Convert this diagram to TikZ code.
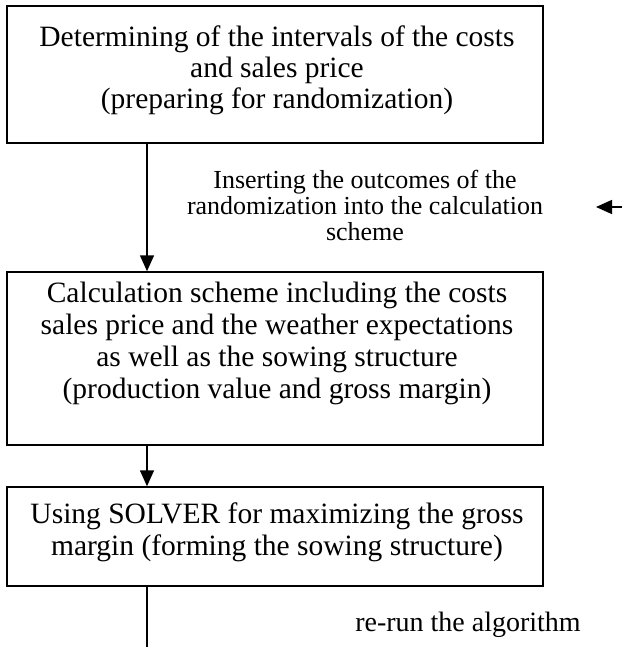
\documentclass[tikz,border=0pt]{standalone}
\usepackage{fontspec}
\setmainfont{Liberation Serif}
\usetikzlibrary{arrows.meta}
\begin{document}
\begin{tikzpicture}[x=1pt,y=-1pt,
  boxnode/.style={draw, line width=1.5pt, minimum width=536pt, inner sep=0pt},
  boxtext/.style={align=center, inner sep=0pt, font=\fontsize{29.5}{31}\selectfont},
  lbl/.style={align=center, inner sep=0pt},
  arr/.style={line width=1.5pt, -{Triangle[length=16pt,width=14pt]}},
  plain/.style={line width=1.5pt}]
\useasboundingbox (0,0) rectangle (622,647);
\node[boxnode, minimum height=137pt] (b1) at (275,74.5) {};
\node[boxnode, minimum height=173pt] (b2) at (275,358.5) {};
\node[boxnode, minimum height=99pt] (b3) at (275,536.5) {};
\node[boxtext] (t1) at (277,70)
  {Determining of the intervals of the costs\\ and sales price\\ (preparing for randomization)};
\node[boxtext, font=\fontsize{29.5}{32}\selectfont] (t2) at (277,343)
  {Calculation scheme including the costs\\ sales price and the weather expectations\\ as well as the sowing structure\\ (production value and gross margin)};
\node[boxtext, font=\fontsize{29.5}{32}\selectfont] (t3) at (277,532)
  {Using SOLVER for maximizing the gross\\ margin (forming the sowing structure)};
\node[lbl, font=\fontsize{26}{26}\selectfont] (ins) at (365,205)
  {Inserting the outcomes of the\\ randomization into the calculation\\ scheme};
\node[lbl, font=\fontsize{28}{30}\selectfont] (rerun) at (468,625) {re-run the algorithm};
\coordinate (rs) at (622,207);
\coordinate (re) at (596,207);
\coordinate (bend) at (147,647);
\draw[arr] ([xshift=-128pt]b1.south) -- ([xshift=-128pt]b2.north);
\draw[arr] ([xshift=-128pt]b2.south) -- ([xshift=-128pt]b3.north);
\draw[plain] ([xshift=-128pt]b3.south) -- (bend);
\draw[arr] (rs) -- (re);
\end{tikzpicture}
\end{document}
